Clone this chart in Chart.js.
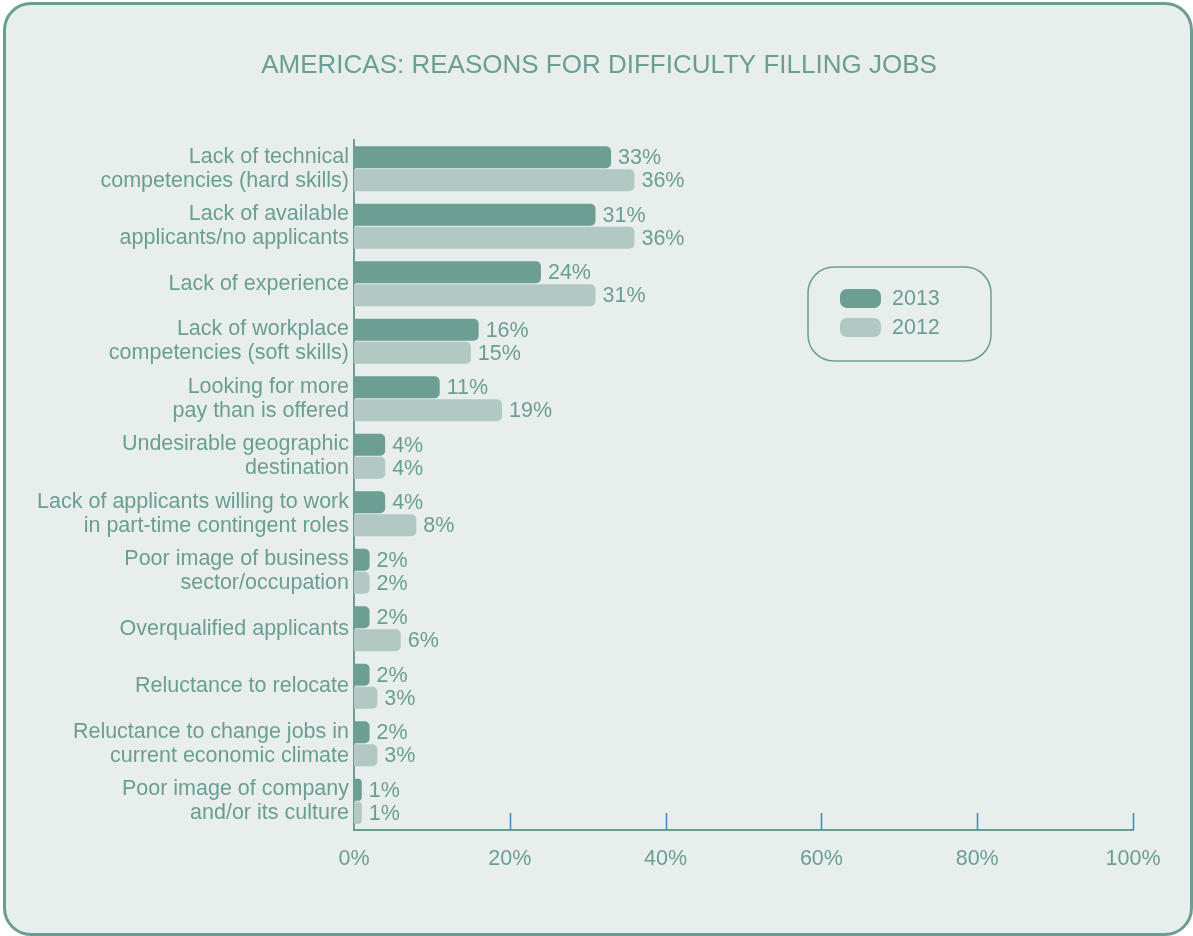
<!DOCTYPE html>
<html lang="en">
<head>
  <meta charset="UTF-8">
  <title>Americas: Reasons for Difficulty Filling Jobs</title>
  <script src="https://cdn.jsdelivr.net/npm/chart.js"></script>
  <style>
    body { margin: 0; background: #fff; }
    .frame {
      position: absolute; left: 3px; top: 2px; width: 1190px; height: 934px;
      box-sizing: border-box; border: 3px solid #6b9e92; border-radius: 28px;
      background: #e7eeeb;
    }
    #grafico { position: absolute; left: 0; top: 0; }
  </style>
</head>
<body>
  <div class="frame"></div>
  <canvas id="grafico" width="1193" height="936"></canvas>

  <script>
    const categorias = [
      ['Lack of technical', 'competencies (hard skills)'],
      ['Lack of available', 'applicants/no applicants'],
      'Lack of experience',
      ['Lack of workplace', 'competencies (soft skills)'],
      ['Looking for more', 'pay than is offered'],
      ['Undesirable geographic', 'destination'],
      ['Lack of applicants willing to work', 'in part-time contingent roles'],
      ['Poor image of business', 'sector/occupation'],
      'Overqualified applicants',
      'Reluctance to relocate',
      ['Reluctance to change jobs in', 'current economic climate'],
      ['Poor image of company', 'and/or its culture']
    ];
    const valores2013 = [33, 31, 24, 16, 11, 4, 4, 2, 2, 2, 2, 1];
    const valores2012 = [36, 36, 31, 15, 19, 4, 8, 2, 6, 3, 3, 1];
    const ticksX = [0, 20, 40, 60, 80, 100];

    const teal = '#6b9e92';
    const escuro = '#6d9e93';
    const claro = '#b1c9c2';
    const fonte = '"Liberation Sans", Arial, sans-serif';
    const tam = 21.5;

    // titulo, rotulos, marcas azuis e legenda
    const extras = {
      id: 'extras',
      afterDraw(chart) {
        const ctx = chart.ctx;
        const area = chart.chartArea;
        const x = chart.scales.x;
        ctx.save();

        ctx.fillStyle = teal;
        ctx.font = '26px ' + fonte;
        ctx.textAlign = 'center';
        ctx.textBaseline = 'alphabetic';
        ctx.fillText('AMERICAS: REASONS FOR DIFFICULTY FILLING JOBS', 599, 73);

        ctx.strokeStyle = '#3d85c4';
        ctx.lineWidth = 1.5;
        ticksX.forEach(v => {
          if (v === 0) return;
          const px = Math.round(x.getPixelForValue(v)) + 0.5;
          ctx.beginPath();
          ctx.moveTo(px, area.bottom - 17);
          ctx.lineTo(px, area.bottom);
          ctx.stroke();
        });

        ctx.font = tam + 'px ' + fonte;
        ctx.textAlign = 'left';
        ctx.textBaseline = 'middle';
        ctx.fillStyle = teal;
        chart.data.datasets.forEach((ds, i) => {
          chart.getDatasetMeta(i).data.forEach((bar, j) => {
            ctx.fillText(ds.data[j] + '%', bar.x + 7, bar.y + 1);
          });
        });

        ctx.strokeStyle = teal;
        ctx.lineWidth = 1.5;
        ctx.beginPath();
        ctx.roundRect(808, 267, 183, 94, 26);
        ctx.stroke();
        chart.data.datasets.forEach((ds, i) => {
          const y = 289 + i * 29;
          ctx.fillStyle = ds.backgroundColor;
          ctx.beginPath();
          ctx.roundRect(840, y, 41, 19, 7);
          ctx.fill();
          ctx.fillStyle = teal;
          ctx.fillText(ds.label, 892, y + 10);
        });
        ctx.restore();
      }
    };

    new Chart(document.getElementById('grafico'), {
      type: 'bar',
      data: {
        labels: categorias,
        datasets: [
          { label: '2013', data: valores2013, backgroundColor: escuro },
          { label: '2012', data: valores2012, backgroundColor: claro }
        ]
      },
      options: {
        indexAxis: 'y',
        responsive: false,
        animation: false,
        categoryPercentage: 0.8,
        barPercentage: 0.96,
        borderRadius: 5,
        layout: { padding: { top: 140, right: 60, left: 0, bottom: 0 } },
        plugins: { legend: { display: false }, title: { display: false }, tooltip: { enabled: false } },
        scales: {
          x: {
            min: 0, max: 100,
            afterBuildTicks: s => { s.ticks = ticksX.map(v => ({ value: v })); },
            afterFit: s => { s.height = 106; },
            grid: { display: false, drawTicks: false },
            border: { display: true, color: teal, width: 2 },
            ticks: { color: teal, font: { family: fonte, size: tam }, padding: 16, callback: v => v + '%' }
          },
          y: {
            afterFit: s => { s.width = 354; },
            grid: { display: false, drawTicks: false },
            border: { display: true, color: teal, width: 2 },
            ticks: { color: teal, font: { family: fonte, size: tam, lineHeight: 24 / tam }, padding: 5 }
          }
        }
      },
      plugins: [extras]
    });
  </script>
</body>
</html>
